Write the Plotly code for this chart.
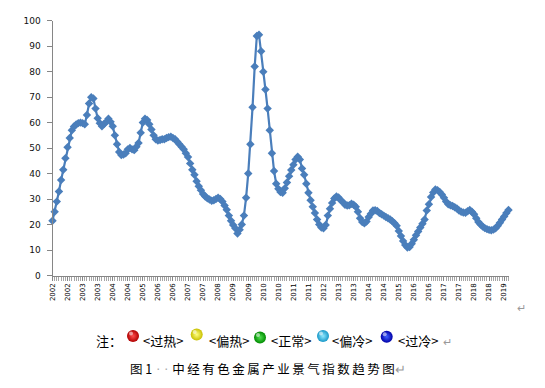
import plotly.graph_objects as go
import pandas as pd

# Monthly index values, Jan 2002 .. Sep 2019
index_values = [
    21.5, 25, 29, 33, 37.5, 41.5, 46, 50.3, 54, 57, 58.5, 59.3, 59.8, 60, 59.8, 59.4,
    63, 67.5, 70, 69.5, 65.5, 61.7, 59.8, 58.6, 59.5, 60.3, 61.5, 60.3, 58.6, 55,
    51.5, 48.5, 47.3, 47.5, 48, 49.5, 50, 49.5, 49.2, 50.5, 52, 56, 60, 61.5, 61,
    59.4, 57.3, 55, 53.5, 53, 53.2, 53.5, 53.5, 54, 54.3, 54.5, 54, 53.5, 52.5, 51.5,
    50.5, 49.5, 48, 46.5, 44, 41.5, 39.5, 37, 35, 33.5, 32, 31, 30.3, 29.8, 29.3,
    29.5, 30, 30.5, 30, 29, 27.5, 25.8, 23.5, 21.5, 19.8, 18.5, 16.5, 18, 20, 23.5,
    30.5, 40, 51.5, 66, 82, 94, 94.5, 88, 80, 73, 65.5, 57, 48, 41, 36, 34, 32.8,
    32.5, 34.2, 36.5, 39, 41.4, 43.5, 45.5, 46.6, 45.5, 42, 39.5, 36, 32.5, 29.5, 27,
    24.5, 22, 20, 18.8, 18.5, 19.8, 23.5, 26.2, 28.5, 30.2, 31, 30.6, 29.5, 28.8,
    27.8, 27.5, 27.6, 28.2, 27.8, 27, 25, 22.5, 21, 20.5, 21.2, 23, 24.2, 25.5, 25.6,
    25.3, 24.5, 24, 23.5, 23, 22.5, 22, 21.3, 20.5, 19.5, 17.5, 15.5, 13.5, 12, 11,
    11.2, 12.5, 14, 15.8, 17.3, 18.8, 20.3, 22, 25.5, 28, 30.8, 32.6, 33.8, 33.5,
    32.8, 31.8, 30.5, 29, 28, 27.6, 27.3, 26.8, 26.3, 25.5, 25, 24.7, 24.6, 25.2,
    25.7, 25, 24, 22.5, 21, 20, 19.2, 18.6, 18.2, 17.9, 17.8, 18, 18.5, 19.5, 20.7,
    22, 23.2, 24.5, 25.7,
]
months = pd.date_range("2002-01-01", periods=len(index_values), freq="MS")
positions = list(range(len(index_values)))

# Category tick labels (every 7th month is labelled)
tick_labels = ["2002", "2002", "2003", "2003", "2004", "2004", "2005", "2006", "2006",
               "2007", "2007", "2008", "2009", "2009", "2010", "2010", "2011", "2011",
               "2012", "2013", "2013", "2014", "2014", "2015", "2016", "2016", "2017",
               "2017", "2018", "2018", "2019"]
tick_step = 7
y_ticks = [0, 10, 20, 30, 40, 50, 60, 70, 80, 90, 100]

legend_names = ["<过热>", "<偏热>", "<正常>", "<偏冷>", "<过冷>"]
legend_edge = ["#b00000", "#c8c000", "#008a00", "#1898c8", "#0000a8"]
legend_core = ["#ff5050", "#ffff80", "#50e050", "#90e8ff", "#4060ff"]

W, H = 545, 388
def px(x): return x / W
def py(y): return 1 - y / H

fig = go.Figure()
fig.add_trace(go.Scatter(
    x=positions, y=index_values, customdata=months.strftime("%Y-%m"),
    mode="lines+markers",
    line=dict(color="#4A7EBB", width=2.2),
    marker=dict(symbol="diamond", size=6.5, color="#4A7EBB"),
    cliponaxis=False, hovertemplate="%{customdata}: %{y}<extra></extra>",
    showlegend=False,
))

# legend balls on a pixel-coordinate overlay axis
ball_x = [133, 196.7, 260, 323, 386.7]
ball_y = [336, 334.5, 337.5, 336, 336.7]
fig.add_trace(go.Scatter(
    x=ball_x, y=ball_y, xaxis="x2", yaxis="y2", mode="markers",
    marker=dict(size=12, color=legend_edge,
                gradient=dict(type="radial", color=legend_core), line=dict(width=0)),
    showlegend=False, hoverinfo="skip",
))
fig.add_trace(go.Scatter(
    x=[b - 2 for b in ball_x], y=[b - 2.5 for b in ball_y], xaxis="x2", yaxis="y2",
    mode="markers", marker=dict(size=4, color="rgba(255,255,255,0.55)", line=dict(width=0)),
    showlegend=False, hoverinfo="skip",
))

axis_gray = "#868686"
fig.update_layout(
    width=W, height=H, margin=dict(l=0, r=0, t=0, b=0),
    paper_bgcolor="white", plot_bgcolor="rgba(0,0,0,0)", template="none",
    xaxis=dict(
        domain=[px(52.5), px(508.5)], range=[0, len(index_values) - 1],
        showline=True, linecolor=axis_gray, linewidth=1, showgrid=False, zeroline=False,
        tickmode="array", tickvals=positions[::tick_step], ticktext=tick_labels,
        ticks="outside", ticklen=4, tickcolor=axis_gray, tickangle=-90,
        tickfont=dict(family="DejaVu Sans", size=7, color="#000000"),
        minor=dict(dtick=1, tick0=0, ticks="outside", ticklen=4, tickcolor="#a6a6a6"),
        automargin=False, fixedrange=True,
    ),
    yaxis=dict(
        domain=[py(275.5), py(20.7)], range=[0, 100],
        showline=True, linecolor=axis_gray, linewidth=1, showgrid=False, zeroline=False,
        tickmode="array", tickvals=y_ticks, ticks="outside", ticklen=5, tickcolor=axis_gray,
        tickfont=dict(family="DejaVu Sans", size=9, color="#111111"),
        ticklabelstandoff=4, automargin=False, fixedrange=True,
    ),
    xaxis2=dict(domain=[0, 1], range=[0, W], visible=False, anchor="y2", fixedrange=True),
    yaxis2=dict(domain=[0, 1], range=[H, 0], visible=False, anchor="x2", fixedrange=True),
)

cjk = "Noto Sans CJK SC"
ann = []
ann.append(dict(x=px(521), y=py(307), text="↵", font=dict(family=cjk, size=11, color="#999999")))
ann.append(dict(x=px(108.5), y=py(340), text="注：", font=dict(family=cjk, size=13, color="black")))
label_left = [141, 207, 269, 330, 396]
for name, lx in zip(legend_names, label_left):
    ann.append(dict(x=px(lx), y=py(340), text=name, xanchor="left",
                    font=dict(family=cjk, size=13, color="black")))
ann.append(dict(x=px(441), y=py(341), text="↵", xanchor="left",
                font=dict(family=cjk, size=11, color="#999999")))
caption_chars = "中经有色金属产业景气指数趋势图"
caption = ("图\u00a01<span style='font-family:DejaVu Sans;color:#aaaaaa'>\u00a0·\u00a0·\u00a0</span>"
           + "\u2009".join(caption_chars)
           + "<span style='color:#999999'>↵</span>")
ann.append(dict(x=px(128), y=py(368), text=caption, xanchor="left",
                font=dict(family=cjk, size=12.5, color="black")))
for a in ann:
    a.update(xref="paper", yref="paper", showarrow=False, yanchor=a.get("yanchor", "middle"))
    a.setdefault("xanchor", "center")
fig.update_layout(annotations=ann)

fig.write_html("out.html", post_script="document.body.style.margin='0';",
               config={"displayModeBar": False})
